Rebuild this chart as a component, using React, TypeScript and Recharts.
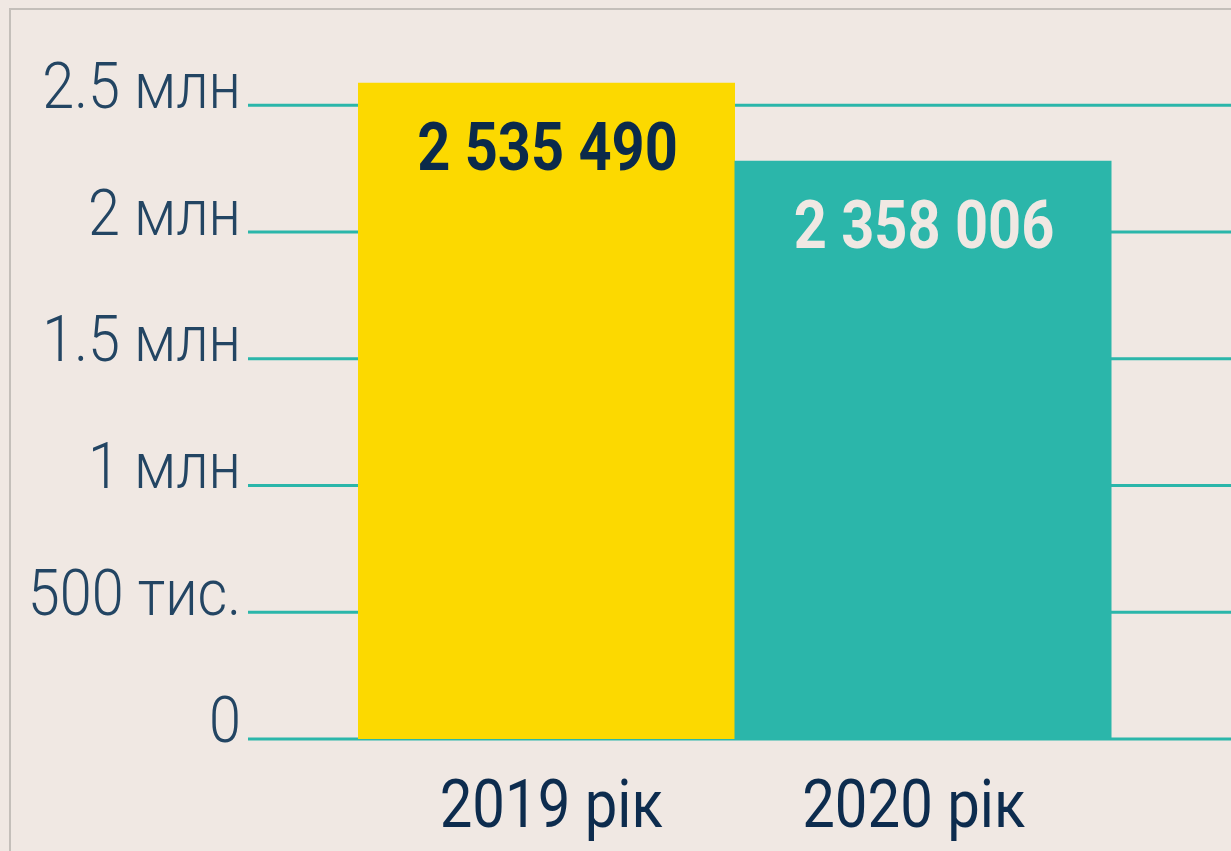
import React from "react";
import { BarChart, Bar, XAxis, YAxis, CartesianGrid, Cell, LabelList } from "recharts";

const categories = ["2019 рік", "2020 рік"];
const barValues = [2589000, 2281000];
const valueLabels = ["2 535 490", "2 358 006"];
const barColors = ["#FCD900", "#2BB6AA"];
const valueLabelColors = ["#0B2A4A", "#F0E8E3"];
const yTicks = [0, 500000, 1000000, 1500000, 2000000, 2500000];
const yTickLabels = ["0", "500 тис.", "1 млн", "1.5 млн", "2 млн", "2.5 млн"];

const data = categories.map((c, i) => ({ name: c, value: barValues[i], label: valueLabels[i] }));

const FONT = "Roboto, 'Noto Sans', sans-serif";
const X_LABEL_SHIFT = [5, -9];

const YTick = (props: any) => {
  const { x, y, payload } = props;
  const idx = yTicks.indexOf(payload.value);
  const txt = idx >= 0 ? yTickLabels[idx] : String(payload.value);
  return (
    <g transform={`translate(${x - 7},${y + 2.5})`}>
      <text
        x={0}
        y={0}
        textAnchor="end"
        transform="scale(0.9,1)"
        fontFamily={FONT}
        fontWeight={300}
        fontSize={64}
        fill="#234563"
      >
        {txt}
      </text>
    </g>
  );
};

const XTick = (props: any) => {
  const { x, y, payload, index } = props;
  const shift = X_LABEL_SHIFT[index] ?? 0;
  return (
    <g transform={`translate(${x + shift},${y + 88})`}>
      <text
        x={0}
        y={0}
        textAnchor="middle"
        transform="scale(0.88,1)"
        fontFamily={FONT}
        fontWeight={400}
        fontSize={66}
        fill="#0D2C4E"
      >
        {payload.value}
      </text>
    </g>
  );
};

const ValueLabel = (props: any) => {
  const { x, y, width, value } = props;
  const idx = valueLabels.indexOf(value);
  const color = idx >= 0 ? valueLabelColors[idx] : "#0B2A4A";
  return (
    <g transform={`translate(${x + width / 2 + 1},${y + 87})`}>
      <text
        x={0}
        y={0}
        textAnchor="middle"
        transform="scale(0.875,1)"
        fontFamily={FONT}
        fontWeight={700}
        fontSize={66}
        fill={color}
      >
        {value}
      </text>
    </g>
  );
};

export default function App() {
  return (
    <div style={{ position: "fixed", inset: 0, background: "#F0E8E3", overflow: "hidden" }}>
      <div
        style={{
          position: "absolute",
          left: 9,
          top: 8,
          right: 0,
          bottom: 0,
          borderLeft: "2px solid #C4BFBA",
          borderTop: "2px solid #C4BFBA",
        }}
      >
        <BarChart
          width={1220}
          height={841}
          data={data}
          margin={{ top: 32, right: 0, bottom: 0, left: 0 }}
          barCategoryGap={0}
          barGap={0}
        >
          <CartesianGrid
            horizontal
            vertical={false}
            horizontalValues={yTicks}
            stroke="#2BB6AA"
            strokeWidth={3}
          />
          <XAxis
            dataKey="name"
            axisLine={false}
            tickLine={false}
            tickSize={0}
            tickMargin={0}
            height={112}
            padding={{ left: 110, right: 120 }}
            tick={<XTick />}
            interval={0}
          />
          <YAxis
            type="number"
            domain={[0, 2750000]}
            ticks={yTicks}
            axisLine={false}
            tickLine={false}
            tickSize={0}
            tickMargin={0}
            width={237}
            tick={<YTick />}
            interval={0}
          />
          <Bar dataKey="value" isAnimationActive={false}>
            {data.map((d, i) => (
              <Cell key={d.name} fill={barColors[i]} />
            ))}
            <LabelList dataKey="label" content={<ValueLabel />} />
          </Bar>
        </BarChart>
      </div>
    </div>
  );
}
